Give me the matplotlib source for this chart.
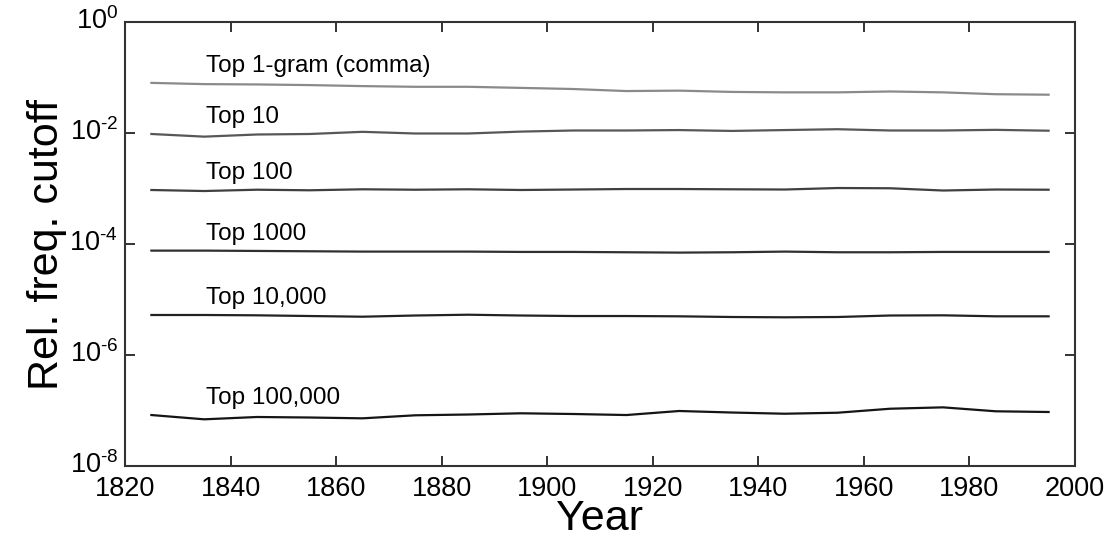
import numpy as np
import matplotlib
matplotlib.use("Agg")
import matplotlib.pyplot as plt
import matplotlib.transforms as mtransforms
from matplotlib.ticker import FuncFormatter, NullLocator

plt.rcParams["font.family"] = ["Liberation Sans", "DejaVu Sans"]
plt.rcParams["mathtext.fontset"] = "custom"
plt.rcParams["mathtext.rm"] = "Liberation Sans"
plt.rcParams["mathtext.it"] = "Liberation Sans:italic"
plt.rcParams["mathtext.bf"] = "Liberation Sans:bold"

# decade midpoints
years = [1825, 1835, 1845, 1855, 1865, 1875, 1885, 1895, 1905,
         1915, 1925, 1935, 1945, 1955, 1965, 1975, 1985, 1995]

# relative frequency cutoff for each rank threshold
top_comma = [0.080, 0.076, 0.075, 0.073, 0.070, 0.068, 0.068, 0.065, 0.062,
             0.057, 0.058, 0.055, 0.054, 0.054, 0.056, 0.054, 0.050, 0.049]
top_10 = [0.0096, 0.0086, 0.0094, 0.0096, 0.0105, 0.0098, 0.0098, 0.0106, 0.0111,
          0.0111, 0.0113, 0.0109, 0.0113, 0.0117, 0.0111, 0.0111, 0.0114, 0.0110]
top_100 = [9.40e-4, 9.01e-4, 9.51e-4, 9.29e-4, 9.68e-4, 9.51e-4, 9.68e-4, 9.40e-4, 9.59e-4,
           9.79e-4, 9.79e-4, 9.68e-4, 9.59e-4, 1.02e-3, 1.01e-3, 9.20e-4, 9.59e-4, 9.51e-4]
top_1000 = [7.6e-5, 7.6e-5, 7.5e-5, 7.4e-5, 7.3e-5, 7.3e-5, 7.3e-5, 7.2e-5, 7.2e-5,
            7.1e-5, 7.0e-5, 7.1e-5, 7.3e-5, 7.1e-5, 7.1e-5, 7.2e-5, 7.2e-5, 7.2e-5]
top_10000 = [5.26e-6, 5.26e-6, 5.19e-6, 5.04e-6, 4.90e-6, 5.15e-6, 5.32e-6, 5.15e-6, 5.04e-6,
             5.04e-6, 4.98e-6, 4.84e-6, 4.78e-6, 4.84e-6, 5.15e-6, 5.19e-6, 4.98e-6, 4.98e-6]
top_100000 = [8.29e-8, 6.94e-8, 7.64e-8, 7.48e-8, 7.23e-8, 8.20e-8, 8.47e-8, 8.91e-8, 8.65e-8,
              8.29e-8, 9.80e-8, 9.20e-8, 8.75e-8, 9.12e-8, 1.077e-7, 1.14e-7, 9.68e-8, 9.40e-8]

series = [top_comma, top_10, top_100, top_1000, top_10000, top_100000]
labels = ["Top 1-gram (comma)", "Top 10", "Top 100", "Top 1000", "Top 10,000", "Top 100,000"]
colors = ["#8a8a8a", "#575757", "#404040", "#303030", "#222222", "#151515"]

yticks = [1e-8, 1e-6, 1e-4, 1e-2, 1e0]


def pow10_label(v, pos):
    # plain hyphen in the exponent
    e = int(round(np.log10(v)))
    exp = ("\\text{-}%d" % -e) if e < 0 else "%d" % e
    return "10$^{%s}$" % exp


fig = plt.figure(figsize=(11.15, 5.42), dpi=100)
ax = fig.add_axes([0.1121, 0.1402, 0.8520, 0.8192])

for vals, lab, col in zip(series, labels, colors):
    ax.plot(years, vals, color=col, linewidth=1.6)
    # label sits just above the start of each curve
    ax.text(1835.3, vals[0] * 2.0, lab, fontsize=17.5, color="black", ha="left", va="center")

ax.set_yscale("log")
ax.set_xlim(1820, 2000)
ax.set_ylim(1e-8, 1e0)
ax.set_xticks(np.arange(1820, 2001, 20))
ax.set_yticks(yticks)
ax.yaxis.set_major_formatter(FuncFormatter(pow10_label))
ax.yaxis.set_minor_locator(NullLocator())

ax.tick_params(axis="both", which="major", direction="in", length=7, width=1.4,
               labelsize=19.5, top=True, right=True, color="#333333")
ax.tick_params(axis="x", pad=7)
ax.tick_params(axis="y", pad=5)
for sp in ax.spines.values():
    sp.set_linewidth(1.5)
    sp.set_color("#333333")

# nudge the power-of-ten labels up a little so 10^-8 clears 1820
lift = mtransforms.ScaledTranslation(0, 3 / 72, fig.dpi_scale_trans)
for lbl in ax.get_yticklabels():
    lbl.set_transform(lbl.get_transform() + lift)

ax.set_xlabel("Year", fontsize=31, labelpad=-2)
ax.set_ylabel("Rel. freq. cutoff", fontsize=31, labelpad=2)

fig.savefig("out.png", dpi=100)
